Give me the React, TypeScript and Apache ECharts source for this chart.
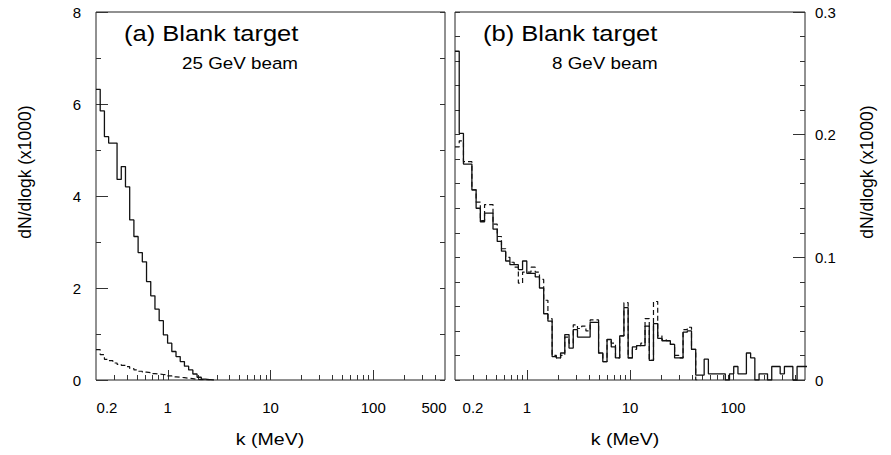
import React, { useEffect, useRef } from "react";
import * as echarts from "echarts";

// ---- binning (log10 bins starting at 0.2 MeV) ----
const BIN_START = 0.2;
const BIN_DEC = 0.041;

// ---- axis ticks / labels ----
const X_LABELS_A = [0.2, 1, 10, 100, 500];
const X_LABELS_B = [0.2, 1, 10, 100];
const X_MAJOR_TICKS = [1, 10, 100];
const X_MINOR_TICKS = [0.3, 0.4, 0.5, 0.6, 0.7, 0.8, 0.9, 2, 3, 4, 5, 6, 7, 8, 9, 20, 30, 40, 50, 60, 70, 80, 90, 200, 300, 400];

// ---- panel (a): 25 GeV beam, values per bin (x1000) ----
const A_SOLID = [6.32, 5.85, 5.29, 5.15, 5.15, 4.36, 4.64, 4.2, 3.48, 3.12, 2.77, 2.57, 2.14, 1.83, 1.54, 1.29, 0.98, 0.8, 0.62, 0.51, 0.4, 0.3, 0.22, 0.13, 0.06, 0.02, 0.01, 0];
const A_DASHED = [0.66, 0.55, 0.45, 0.42, 0.37, 0.34, 0.32, 0.29, 0.25, 0.22, 0.19, 0.17, 0.16, 0.14, 0.13, 0.12, 0.11, 0.09, 0.07, 0.06, 0.05, 0.04, 0.03, 0.015, 0.01, 0.005, 0];

// ---- panel (b): 8 GeV beam ----
const B_SOLID = [
  0.268, 0.201, 0.176, 0.176, 0.155, 0.14, 0.129, 0.136, 0.136, 0.123,
  0.113, 0.105, 0.097, 0.094, 0.094, 0.09, 0.097, 0.087, 0.087, 0.084,
  0.075, 0.054, 0.048, 0.019, 0.018, 0.022, 0.037, 0.026, 0.041, 0.035,
  0.035, 0.035, 0.047, 0.047, 0.022, 0.015, 0.033, 0.027, 0.018, 0.036,
  0.059, 0.018, 0.027, 0.028, 0.028, 0.044, 0.016, 0.046, 0.034, 0.032,
  0.032, 0.029, 0.018, 0.018, 0.039, 0.04, 0.025, 0.004, 0.004, 0.017,
  0.005, 0.005, 0.005, 0.005, 0, 0.005, 0.011, 0.005, 0.005, 0.022,
  0.018, 0, 0.005, 0.005, 0, 0.011, 0.011, 0.005, 0.011, 0.011,
  0, 0.011, 0.011, 0.011,
];
const B_DASHED = [
  0.19, 0.195, 0.178, 0.178, 0.155, 0.145, 0.13, 0.143, 0.143, 0.127,
  0.117, 0.107, 0.1, 0.096, 0.092, 0.079, 0.088, 0.088, 0.092, 0.088,
  0.082, 0.065, 0.05, 0.02, 0.018, 0.02, 0.035, 0.03, 0.045, 0.042,
  0.044, 0.04, 0.049, 0.049, 0.022, 0.015, 0.033, 0.03, 0.018, 0.036,
  0.063, 0.018, 0.025, 0.028, 0.03, 0.05, 0.016, 0.064, 0.036, 0.033,
  0.032, 0.029, 0.02, 0.018, 0.041, 0.043, 0.025, 0,
];

const FONT = "'Liberation Sans', Arial, Helvetica, sans-serif";
const INK = "#111";
const TICK = "#333";

function edge(i: number) {
  return BIN_START * Math.pow(10, BIN_DEC * i);
}
function histPoints(values: number[]) {
  const pts = values.map((v, i) => [edge(i), v]);
  pts.push([edge(values.length), values[values.length - 1]]);
  return pts;
}
function fmtX(v: number) {
  return String(+Number(v).toPrecision(3));
}

function xAxes(gridIndex: number, labels: number[], minShift: number, maxShift: number) {
  const base = {
    type: "log",
    logBase: 10,
    gridIndex,
    position: "bottom",
    min: 0.2,
    max: 500,
    axisLine: { show: false, onZero: false },
    splitLine: { show: false },
  };
  const last = labels[labels.length - 1];
  return [
    {
      ...base,
      axisTick: { show: true, inside: true, length: 10, customValues: X_MAJOR_TICKS, lineStyle: { color: TICK, width: 1 } },
      axisLabel: {
        show: true,
        customValues: labels,
        margin: 20,
        fontSize: 15,
        fontFamily: FONT,
        color: "#000",
        formatter: (v: number) => {
          const s = fmtX(v);
          if (Math.abs(v - 0.2) < 1e-6) return "{lo|" + s + "}";
          if (Math.abs(v - last) < 1e-6 && last === 500) return "{hi|" + s + "}";
          return s;
        },
        rich: {
          lo: { padding: [0, 0, 0, minShift], fontSize: 15, fontFamily: FONT, color: "#000" },
          hi: { padding: [0, maxShift, 0, 0], fontSize: 15, fontFamily: FONT, color: "#000" },
        },
      },
    },
    {
      ...base,
      axisTick: { show: true, inside: true, length: 5, customValues: X_MINOR_TICKS, lineStyle: { color: TICK, width: 1 } },
      axisLabel: { show: false },
    },
  ];
}

export default function App() {
  const ref = useRef<HTMLDivElement>(null);
  useEffect(() => {
    if (!ref.current) return;
    const chart = echarts.init(ref.current, null, { renderer: "svg" });
    const gridBase = {
      top: 12,
      height: 368,
      show: true,
      borderColor: "#222",
      borderWidth: 1,
      backgroundColor: "transparent",
      containLabel: false,
      outerBoundsMode: "none",
    };
    const yBase = {
      type: "value",
      axisLine: { show: false, onZero: false },
      splitLine: { show: false },
    };
    const option: any = {
      animation: false,
      backgroundColor: "#fff",
      grid: [
        { ...gridBase, left: 96, width: 349 },
        { ...gridBase, left: 455, width: 350 },
      ],
      xAxis: [
        ...xAxes(0, X_LABELS_A, 22, 22),
        ...xAxes(1, X_LABELS_B, 36, 0),
      ],
      yAxis: [
        {
          ...yBase,
          gridIndex: 0,
          position: "left",
          min: 0,
          max: 8,
          interval: 2,
          axisTick: { show: true, inside: true, length: 12, lineStyle: { color: TICK } },
          minorTick: { show: true, splitNumber: 2, length: 5, lineStyle: { color: TICK } },
          axisLabel: { margin: 15, fontSize: 15, fontFamily: FONT, color: "#000" },
        },
        {
          ...yBase,
          gridIndex: 0,
          position: "right",
          min: 0,
          max: 8,
          interval: 1,
          axisTick: { show: true, inside: true, length: 5, lineStyle: { color: TICK } },
          axisLabel: { show: false },
        },
        {
          ...yBase,
          gridIndex: 1,
          position: "left",
          min: 0,
          max: 0.3,
          interval: 0.02,
          axisTick: { show: true, inside: true, length: 5, lineStyle: { color: TICK } },
          axisLabel: { show: false },
        },
        {
          ...yBase,
          gridIndex: 1,
          position: "right",
          min: 0,
          max: 0.3,
          interval: 0.1,
          axisTick: { show: true, inside: true, length: 12, lineStyle: { color: TICK } },
          minorTick: { show: true, splitNumber: 5, length: 5, lineStyle: { color: TICK } },
          axisLabel: {
            margin: 10,
            fontSize: 15,
            fontFamily: FONT,
            color: "#000",
            formatter: (v: number) => String(+Number(v).toFixed(2)),
          },
        },
      ],
      series: [
        {
          type: "line", xAxisIndex: 0, yAxisIndex: 0, data: histPoints(A_DASHED), step: "end",
          symbol: "none", silent: true, lineStyle: { color: INK, width: 1.2, type: [5, 3] },
        },
        {
          type: "line", xAxisIndex: 0, yAxisIndex: 0, data: histPoints(A_SOLID), step: "end",
          symbol: "none", silent: true, lineStyle: { color: INK, width: 1.3 },
        },
        {
          type: "line", xAxisIndex: 2, yAxisIndex: 2, data: histPoints(B_DASHED), step: "end",
          symbol: "none", silent: true, lineStyle: { color: INK, width: 1.2, type: [5, 3] },
        },
        {
          type: "line", xAxisIndex: 2, yAxisIndex: 2, data: histPoints(B_SOLID), step: "end",
          symbol: "none", silent: true, lineStyle: { color: INK, width: 1.3 },
        },
      ],
      graphic: [
        { type: "text", x: 124, y: 33, scaleX: 1.16, style: { text: "(a) Blank target", font: `22px ${FONT}`, fill: "#000", align: "left", verticalAlign: "middle" } },
        { type: "text", x: 182, y: 63, scaleX: 1.14, style: { text: "25 GeV beam", font: `16.5px ${FONT}`, fill: "#000", align: "left", verticalAlign: "middle" } },
        { type: "text", x: 483, y: 33, scaleX: 1.16, style: { text: "(b) Blank target", font: `22px ${FONT}`, fill: "#000", align: "left", verticalAlign: "middle" } },
        { type: "text", x: 552, y: 63, scaleX: 1.14, style: { text: "8 GeV beam", font: `16.5px ${FONT}`, fill: "#000", align: "left", verticalAlign: "middle" } },
        { type: "text", x: 270, y: 439, scaleX: 1.15, style: { text: "k (MeV)", font: `17px ${FONT}`, fill: "#000", align: "center", verticalAlign: "middle" } },
        { type: "text", x: 625, y: 439, scaleX: 1.15, style: { text: "k (MeV)", font: `17px ${FONT}`, fill: "#000", align: "center", verticalAlign: "middle" } },
        { type: "text", x: 25, y: 172, rotation: Math.PI / 2, style: { text: "dN/dlogk (x1000)", font: `17.5px ${FONT}`, fill: "#000", align: "center", verticalAlign: "middle" } },
        { type: "text", x: 867, y: 172, rotation: Math.PI / 2, style: { text: "dN/dlogk (x1000)", font: `17.5px ${FONT}`, fill: "#000", align: "center", verticalAlign: "middle" } },
      ],
    };
    chart.setOption(option);
    return () => chart.dispose();
  }, []);
  return (
    <div
      ref={ref}
      style={{ position: "absolute", left: 0, top: 0, width: 891, height: 455, background: "#fff" }}
    />
  );
}
